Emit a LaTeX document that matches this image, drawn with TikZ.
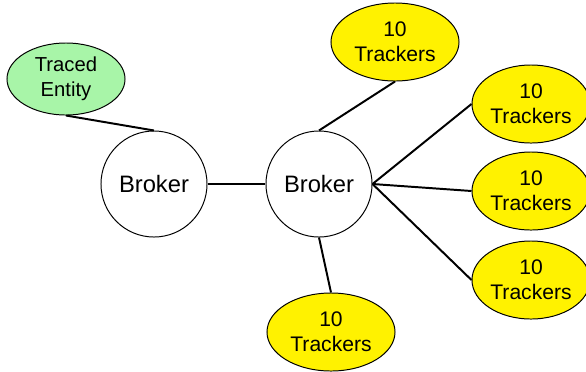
\documentclass[tikz,border=0pt]{standalone}
\usepackage{fontspec}
\setmainfont{Liberation Sans}
\usepackage{tikz}
\usetikzlibrary{shapes}
\usetikzlibrary{shapes.geometric}
\definecolor{vertpale}{RGB}{168,245,168}
\tikzstyle{entite}=[ellipse,draw,fill=vertpale,line width=0.7pt,
        minimum width=2.95cm,minimum height=1.8cm,inner sep=0pt,align=center,
        font=\fontsize{14.4}{17.8}\selectfont]
\tikzstyle{courtier}=[circle,draw,fill=white,line width=0.7pt,
        minimum size=2.65cm,inner sep=0pt,font=\fontsize{16.9}{20}\selectfont]
\tikzstyle{traceur}=[ellipse,draw,fill=yellow,line width=0.7pt,
        minimum width=3.2cm,minimum height=1.95cm,inner sep=0pt,align=center,
        font=\fontsize{15}{17.8}\selectfont]
\tikzstyle{petit}=[minimum width=2.95cm]
\tikzstyle{lien}=[line width=1.4pt]

\begin{document}
\begin{tikzpicture}[x=0.025cm,y=-0.025cm]
\useasboundingbox (0,0) rectangle (586,371);
\node[entite] (te) at (66,79) {Traced\\Entity};
\node[courtier] (b1) at (154,184) {Broker};
\node[courtier] (b2) at (319,184) {Broker};
\node[traceur] (t1) at (395,42) {10\\Trackers};
\node[traceur,petit] (t2) at (531,104) {10\\Trackers};
\node[traceur,petit] (t3) at (531,191) {10\\Trackers};
\node[traceur,petit] (t4) at (531,280) {10\\Trackers};
\node[traceur] (t5) at (331,332) {10\\Trackers};
%Drawing Edges
\draw[lien] (te.south) -- (b1.north);
\draw[lien] (b1.east) -- (b2.west);
\draw[lien] (b2.north) -- (t1.south);
\draw[lien] (b2.east) -- (t2.west);
\draw[lien] (b2.east) -- (t3.west);
\draw[lien] (b2.east) -- (t4.west);
\draw[lien] (b2.south) -- (t5.north);
\end{tikzpicture}
\end{document}
